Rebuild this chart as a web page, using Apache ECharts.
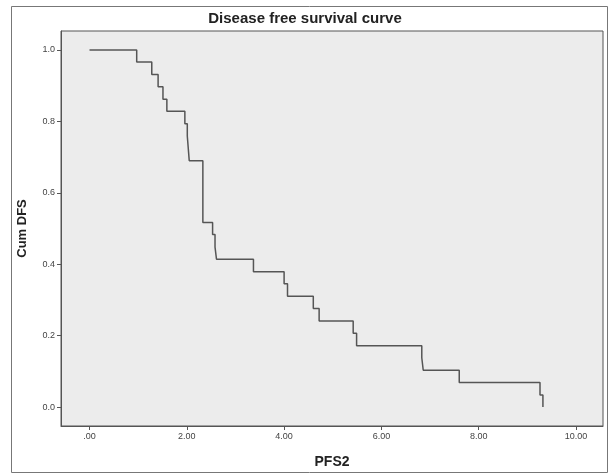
<!DOCTYPE html>
<html>
<head>
<meta charset="utf-8">
<script src="https://cdn.jsdelivr.net/npm/echarts@6/dist/echarts.min.js"></script>
<style>
  html, body { margin: 0; padding: 0; background: #fff; }
  #chart { width: 610px; height: 474px; }
</style>
</head>
<body>
<div id="chart"></div>
<script>
// event times (PFS2) and cumulative DFS after each step
const times = [0, 0.97, 1.28, 1.41, 1.51, 1.59, 1.96, 2.01, 2.05, 2.33, 2.53, 2.58, 2.61,
  3.37, 4.00, 4.07, 4.60, 4.72, 5.42, 5.49, 6.83, 6.86, 7.60, 9.26, 9.32]
const survival = [1.0, 0.966, 0.931, 0.897, 0.862, 0.828, 0.793, 0.759, 0.690, 0.517, 0.483, 0.448, 0.414,
  0.379, 0.345, 0.310, 0.276, 0.241, 0.207, 0.172, 0.138, 0.103, 0.069, 0.034, 0.0]
const xTicks = [0, 2, 4, 6, 8, 10]
const yTicks = [0, 0.2, 0.4, 0.6, 0.8, 1.0]

const chart = echarts.init(document.getElementById('chart'))
const font = 'Liberation Sans, Arial, sans-serif'

chart.setOption({
  animation: false,
  title: {
    text: 'Disease free survival curve',
    left: 'center',
    top: 11,
    padding: 0,
    textStyle: { fontFamily: font, fontSize: 15, fontWeight: 'bold', color: '#222' }
  },
  graphic: [
    {
      type: 'rect',
      shape: { x: 11.5, y: 6.5, width: 596, height: 466 },
      style: { fill: 'none', stroke: '#777', lineWidth: 1 },
      z: -1
    }
  ],
  grid: {
    left: 61, top: 31, right: 7, bottom: 48,
    outerBoundsMode: 'none',
    show: true,
    backgroundColor: '#ececec',
    borderColor: '#555',
    borderWidth: 1
  },
  xAxis: {
    type: 'value',
    min: -0.586,
    max: 10.555,
    name: 'PFS2',
    nameLocation: 'middle',
    nameGap: 29,
    nameTextStyle: { fontFamily: font, fontSize: 14, fontWeight: 'bold', color: '#222' },
    axisLine: { onZero: false, lineStyle: { color: '#555' } },
    axisTick: { show: true, length: 4, customValues: xTicks, lineStyle: { color: '#555' } },
    axisLabel: {
      customValues: xTicks,
      fontFamily: font, fontSize: 9, color: '#444', margin: 6,
      formatter: v => v === 0 ? '.00' : v.toFixed(2)
    },
    splitLine: { show: false }
  },
  yAxis: {
    type: 'value',
    min: -0.053,
    max: 1.053,
    name: 'Cum DFS',
    nameLocation: 'middle',
    nameRotate: 90,
    nameGap: 32,
    nameTextStyle: { fontFamily: font, fontSize: 13, fontWeight: 'bold', color: '#222' },
    axisLine: { onZero: false, lineStyle: { color: '#555' } },
    axisTick: { show: true, length: 4, customValues: yTicks, lineStyle: { color: '#555' } },
    axisLabel: {
      customValues: yTicks,
      fontFamily: font, fontSize: 9, color: '#444', margin: 6,
      formatter: v => v.toFixed(1)
    },
    splitLine: { show: false }
  },
  series: [
    {
      type: 'line',
      step: 'end',
      symbol: 'none',
      data: times.map((t, i) => [t, survival[i]]),
      lineStyle: { color: '#555', width: 1.5 }
    }
  ]
})
</script>
</body>
</html>
